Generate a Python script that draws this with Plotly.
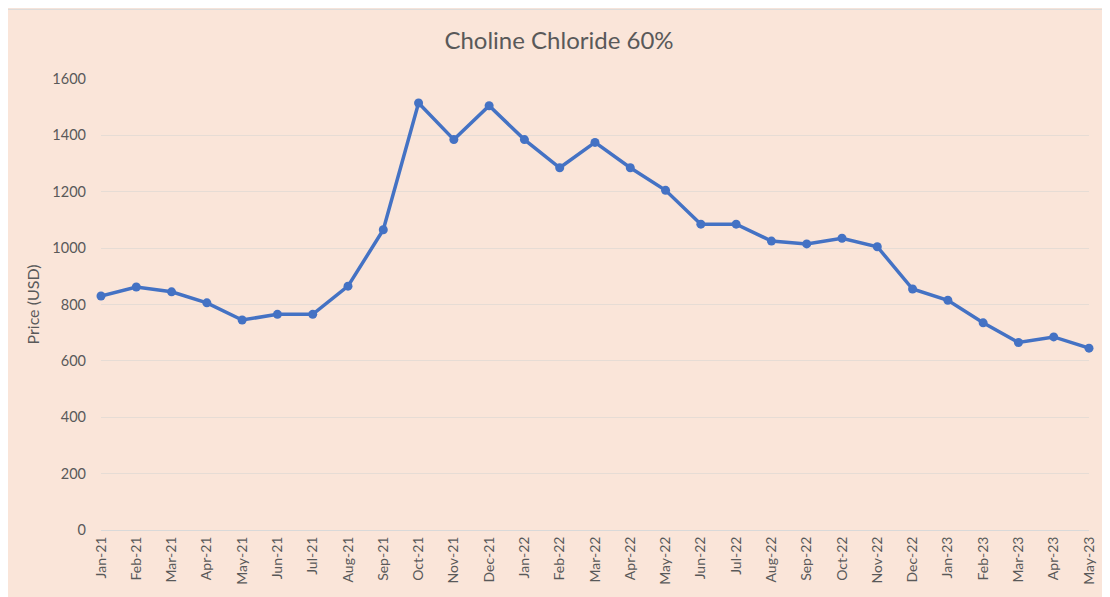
import plotly.graph_objects as go

months = ["Jan-21","Feb-21","Mar-21","Apr-21","May-21","Jun-21","Jul-21","Aug-21","Sep-21","Oct-21",
          "Nov-21","Dec-21","Jan-22","Feb-22","Mar-22","Apr-22","May-22","Jun-22","Jul-22","Aug-22",
          "Sep-22","Oct-22","Nov-22","Dec-22","Jan-23","Feb-23","Mar-23","Apr-23","May-23"]
prices = [830, 862, 845, 806, 745, 765, 765, 865, 1065, 1515,
          1385, 1505, 1385, 1285, 1375, 1285, 1205, 1085, 1085, 1025,
          1015, 1035, 1005, 855, 815, 735, 665, 685, 645]
y_ticks = [0, 200, 400, 600, 800, 1000, 1200, 1400, 1600]

# page body has an 8px margin; figure occupies x 8..1110, y 8..597
W, H = 1102, 589
ml, mr, mt, mb = 93, 21, 71, 64
pw = W - ml - mr
ph = H - mt - mb
peach = "#FAE5D9"
font_fam = "Lato, Carlito, Open Sans, sans-serif"

fig = go.Figure()
fig.add_trace(go.Scatter(
    x=list(range(len(months))), y=prices, mode="lines+markers",
    line=dict(color="#4472C4", width=3.5),
    marker=dict(color="#4472C4", size=9),
    cliponaxis=False, showlegend=False,
))

fig.update_layout(
    width=W, height=H,
    margin=dict(l=ml, r=mr, t=mt, b=mb),
    paper_bgcolor=peach, plot_bgcolor=peach,
    font=dict(family=font_fam, color="#595959", size=14),
    title=dict(text="Choline Chloride 60%", x=(559 - 8) / W, xanchor="center",
               y=1 - (41 - 8) / H, yanchor="middle", font=dict(size=24, color="#595959")),
    xaxis=dict(range=[0, len(months) - 1], tickmode="array",
               tickvals=list(range(len(months))), ticktext=months,
               tickangle=-90, showgrid=False, zeroline=False,
               showline=True, linecolor="#D9D9D9", linewidth=1,
               ticks="", tickfont=dict(size=14, color="#595959")),
    yaxis=dict(range=[0, 1600], tickvals=y_ticks, showgrid=True,
               gridcolor="#E6DCD5", gridwidth=1, zeroline=False,
               showline=False, ticks="", ticklabelstandoff=14,
               tickfont=dict(size=14.5, color="#595959"),
               title=dict(text="Price (USD)", font=dict(size=16, color="#595959"), standoff=8)),
)

# thin grey frame line along the top edge of the chart
fig.add_shape(type="line", xref="paper", yref="paper",
              x0=-ml / pw, x1=1 + mr / pw, y0=1 + mt / ph - 0.002, y1=1 + mt / ph - 0.002,
              line=dict(color="#D9D9D9", width=1), layer="below")

fig.write_html("out.html")
